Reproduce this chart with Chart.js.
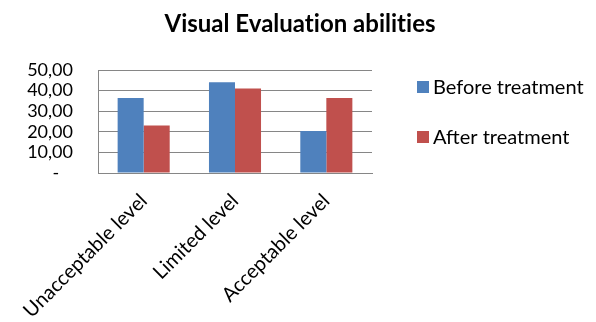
<!DOCTYPE html>
<html>
<head>
<meta charset="utf-8">
<script src="https://cdn.jsdelivr.net/npm/chart.js@4"></script>
<style>
  html, body { margin: 0; padding: 0; background: #fff; }
  #wrap { width: 596px; height: 322px; }
</style>
</head>
<body>
<div id="wrap"><canvas id="chart" width="596" height="322"></canvas></div>
<script>
// data
const categories = ['Unacceptable level', 'Limited level', 'Acceptable level'];
const seriesNames = ['Before treatment', 'After treatment'];
const beforeValues = [36.4, 44.0, 20.4];
const afterValues = [23.0, 41.0, 36.4];
const yTicks = [0, 10, 20, 30, 40, 50];
const chartTitle = 'Visual Evaluation abilities';

const FONT = 'Lato, "Liberation Sans", sans-serif';
const colors = ['#4F81BD', '#C0504D'];

// title centred on the whole picture + legend on the right, like the Excel original
const extras = {
  id: 'extras',
  afterDraw(chart) {
    const ctx = chart.ctx;
    ctx.save();
    ctx.fillStyle = '#000';
    ctx.textBaseline = 'middle';
    ctx.textAlign = 'center';
    ctx.font = 'bold 24px ' + FONT;
    // tiny spacing keeps Lato from joining "ti" into a ligature
    ctx.letterSpacing = '0.01px';
    ctx.fillText(chartTitle, 300, 24);
    ctx.letterSpacing = '0px';

    ctx.textAlign = 'left';
    ctx.font = '20px ' + FONT;
    chart.data.datasets.forEach((ds, i) => {
      const y = 87 + i * 50;
      ctx.fillStyle = ds.backgroundColor;
      ctx.fillRect(417, y - 6, 12, 12);
      ctx.fillStyle = '#000';
      ctx.fillText(ds.label, 433, y + 1);
    });
    ctx.restore();
  }
};

const ctx = document.getElementById('chart').getContext('2d');
new Chart(ctx, {
  type: 'bar',
  data: {
    labels: categories,
    datasets: [
      { label: seriesNames[0], data: beforeValues, backgroundColor: colors[0] },
      { label: seriesNames[1], data: afterValues, backgroundColor: colors[1] }
    ]
  },
  options: {
    responsive: false,
    animation: false,
    layout: { padding: { left: 0, right: 224, top: 70, bottom: 0 } },
    datasets: { bar: { categoryPercentage: 0.57, barPercentage: 1, borderWidth: 0 } },
    plugins: {
      legend: { display: false },
      tooltip: { enabled: false },
      title: { display: false }
    },
    scales: {
      x: {
        grid: { display: false, drawTicks: false },
        border: { color: '#868686', width: 1 },
        ticks: {
          color: '#000',
          font: { family: FONT, size: 20 },
          minRotation: 45, maxRotation: 45,
          autoSkip: false,
          padding: 16
        },
        afterFit(scale) {
          scale.height = 149;
          scale.paddingLeft = 0;
          scale.paddingRight = 0;
        }
      },
      y: {
        min: 0, max: 50,
        afterBuildTicks(scale) {
          scale.ticks = yTicks.map(v => ({ value: v }));
        },
        grid: { color: '#868686', drawTicks: false },
        border: { color: '#868686', width: 1 },
        ticks: {
          color: '#000',
          font: { family: FONT, size: 18 },
          autoSkip: false,
          padding: 25,
          callback: v => v === 0 ? '-   ' : v.toFixed(2).replace('.', ',')
        },
        afterFit(scale) {
          scale.width = 98;
          scale.paddingTop = 0;
          scale.paddingBottom = 0;
        }
      }
    }
  },
  plugins: [extras]
});
</script>
</body>
</html>
